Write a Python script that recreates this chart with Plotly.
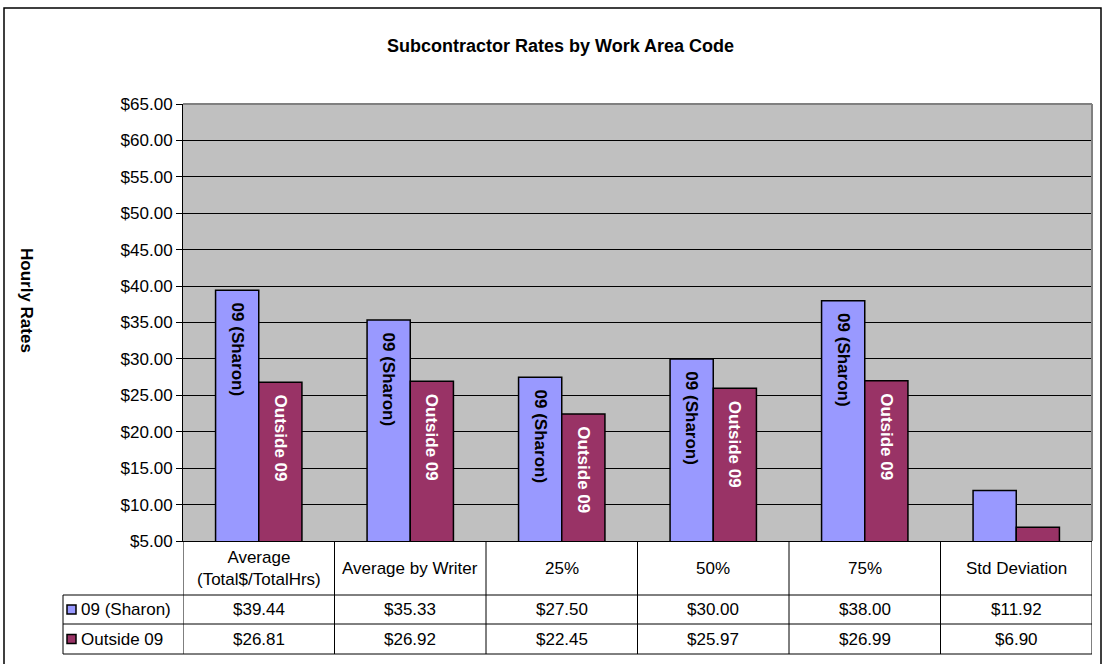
import plotly.graph_objects as go

# data
categories = ["Average (Total$/TotalHrs)", "Average by Writer", "25%", "50%", "75%", "Std Deviation"]
header_labels = ["Average<br>(Total$/TotalHrs)", "Average by Writer", "25%", "50%", "75%", "Std Deviation"]
sharon = [39.44, 35.33, 27.50, 30.00, 38.00, 11.92]
outside = [26.81, 26.92, 22.45, 25.97, 26.99, 6.90]
series_names = ["09 (Sharon)", "Outside 09"]

colors = ["#9999FF", "#993366"]
label_colors = ["black", "white"]
FONT = "Arial, Liberation Sans, sans-serif"

# pixel geometry of the page
W, H = 1103, 664
L, R, T, B = 183, 1092, 104, 541


def px_x(p):
    return (p - L) / (R - L)


def px_y(p):
    return (B - p) / (B - T)


fig = go.Figure()

for name, vals, col, tcol in zip(series_names, [sharon, outside], colors, label_colors):
    fig.add_trace(go.Bar(
        x=categories,
        y=vals,
        name=name,
        marker=dict(color=col, line=dict(color="black", width=1.5)),
        # leading spaces push the label a little below the bar top
        text=["  " + name if v > 15 else "" for v in vals],
        textposition="inside",
        insidetextanchor="end",
        textangle=90,
        textfont=dict(family=FONT, size=17, color=tcol, weight="bold"),
        cliponaxis=True,
        hoverinfo="x+y+name",
    ))

fig.update_layout(
    width=W,
    height=H,
    margin=dict(l=L, r=W - R, t=T, b=H - B, autoexpand=False),
    paper_bgcolor="white",
    plot_bgcolor="#C0C0C0",
    barmode="group",
    bargap=0.43,
    bargroupgap=0,
    showlegend=False,
    font=dict(family=FONT, size=17, color="black"),
    uniformtext=dict(minsize=17, mode="show"),
)

fig.update_xaxes(
    range=[-0.5, 5.5],
    showticklabels=False,
    ticks="",
    showgrid=False,
    showline=True,
    linecolor="black",
    linewidth=1,
)

fig.update_yaxes(
    range=[5, 65],
    dtick=5,
    tickprefix="$",
    tickformat=".2f",
    showgrid=True,
    gridcolor="black",
    gridwidth=1,
    showline=True,
    linecolor="black",
    linewidth=1,
    ticks="outside",
    ticklen=6,
    tickcolor="black",
    tickfont=dict(family=FONT, size=17, color="black"),
    zeroline=False,
)

shapes = []
# outer chart border
shapes.append(dict(type="rect", xref="paper", yref="paper",
                   x0=px_x(4), x1=px_x(1101), y0=px_y(670), y1=px_y(8),
                   line=dict(color="black", width=1.5), fillcolor="rgba(0,0,0,0)", layer="below"))
# plot area border (top / right) in grey
shapes.append(dict(type="line", xref="paper", yref="paper", x0=0, x1=1, y0=1, y1=1,
                   line=dict(color="#808080", width=2)))
shapes.append(dict(type="line", xref="paper", yref="paper", x0=1, x1=1, y0=0, y1=1,
                   line=dict(color="#808080", width=2)))

# data table lines
row_lines = [595, 624, 654]
for yp in row_lines:
    shapes.append(dict(type="line", xref="paper", yref="paper",
                       x0=px_x(63), x1=1, y0=px_y(yp), y1=px_y(yp),
                       line=dict(color="black", width=1)))
for i in range(len(categories) + 1):
    shapes.append(dict(type="line", xref="x", yref="paper",
                       x0=i - 0.5, x1=i - 0.5, y0=0, y1=px_y(654),
                       line=dict(color="black", width=1)))
shapes.append(dict(type="line", xref="paper", yref="paper",
                   x0=px_x(63), x1=px_x(63), y0=px_y(595), y1=px_y(654),
                   line=dict(color="black", width=1)))

annotations = []
# title
annotations.append(dict(text="<b>Subcontractor Rates by Work Area Code</b>", xref="paper", yref="paper",
                        x=px_x(560), y=px_y(46), showarrow=False, xanchor="center", yanchor="middle",
                        font=dict(family=FONT, size=18, color="black")))
# y axis title
annotations.append(dict(text="<b>Hourly Rates</b>", xref="paper", yref="paper",
                        x=px_x(27), y=px_y(300), showarrow=False, textangle=90,
                        xanchor="center", yanchor="middle",
                        font=dict(family=FONT, size=17, color="black")))

# table header
for i, lab in enumerate(header_labels):
    annotations.append(dict(text=lab, xref="x", yref="paper", x=i, y=px_y(568),
                            showarrow=False, xanchor="center", yanchor="middle",
                            font=dict(family=FONT, size=17, color="black")))

# table rows
row_centers = [609.5, 639]
for r, (name, vals, col) in enumerate(zip(series_names, [sharon, outside], colors)):
    yc = row_centers[r]
    shapes.append(dict(type="rect", xref="paper", yref="paper",
                       x0=px_x(67), x1=px_x(76), y0=px_y(yc + 4.5), y1=px_y(yc - 4.5),
                       line=dict(color="black", width=1.5), fillcolor=col))
    annotations.append(dict(text=name, xref="paper", yref="paper", x=px_x(79), y=px_y(yc),
                            showarrow=False, xanchor="left", yanchor="middle",
                            font=dict(family=FONT, size=17, color="black")))
    for i, v in enumerate(vals):
        annotations.append(dict(text=f"${v:.2f}", xref="x", yref="paper", x=i, y=px_y(yc),
                                showarrow=False, xanchor="center", yanchor="middle",
                                font=dict(family=FONT, size=17, color="black")))

fig.update_layout(shapes=shapes, annotations=annotations)

fig.write_html("out.html", config={"displayModeBar": False},
               post_script="document.body.style.margin='0';")
